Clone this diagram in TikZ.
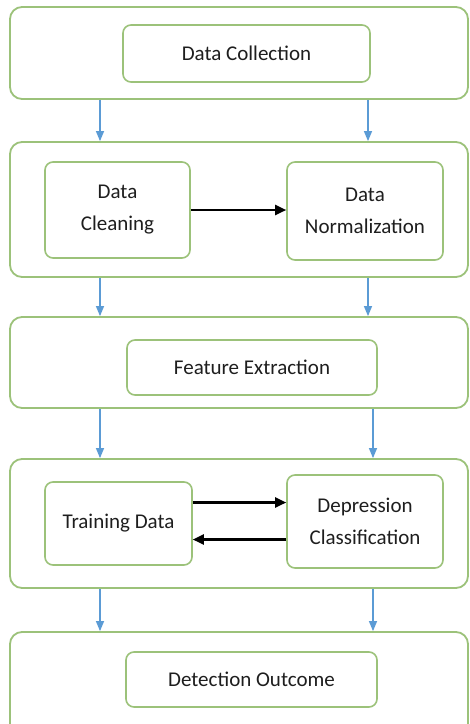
\documentclass[tikz,border=0pt]{standalone}
\usepackage{fontspec}
\setmainfont{Carlito}
\definecolor{dfGreen}{HTML}{9CC27A}
\definecolor{dfBlue}{HTML}{5B9BD5}
\definecolor{dfText}{HTML}{1E1E1E}
\usetikzlibrary{arrows.meta,positioning}

\begin{document}
\begin{tikzpicture}[x=1pt,y=-1pt,
    stage/.style={draw=dfGreen, line width=1.8pt, rounded corners=12pt, inner sep=0pt, minimum width=458pt},
    task/.style={draw=dfGreen, line width=1.6pt, rounded corners=8pt, inner sep=0pt, align=center,
      text=dfText, font=\fontsize{21}{32}\selectfont},
    flow/.style={draw=dfBlue, line width=1.2pt, -{Triangle[length=10pt,width=8pt]}},
    pass/.style={line width=2.2pt, -{Triangle[length=11pt,width=10pt]}}]
  \useasboundingbox[clip] (0,0) rectangle (470,724);
  \fill[white] (0,0) rectangle (470,724);

  % stages
  \node[stage, minimum height=92pt]  (collectStage)  at (239,53)    {};
  \node[stage, minimum height=135pt] (prepStage)     at (239,209.5) {};
  \node[stage, minimum height=91pt]  (featStage)     at (239,362.5) {};
  \node[stage, minimum height=129pt] (modelStage)    at (239,523.5) {};
  \node[stage, minimum height=130pt] (outcomeStage)  at (239,697)   {};

  % tasks
  \node[task, minimum width=247pt, minimum height=57pt] (collect) at (246.5,53.5) {Data Collection};
  \node[task, minimum width=145pt, minimum height=96pt] (clean)   at (117.5,210)  {Data\\Cleaning};
  \node[task, minimum width=156pt, minimum height=98pt] (norm)    at (365,211)    {Data\\Normalization};
  \node[task, minimum width=250pt, minimum height=55pt] (feat)    at (252,367.5)  {Feature Extraction};
  \node[task, minimum width=147pt, minimum height=83pt] (train)   at (118.5,523.5) {Training Data};
  \node[task, minimum width=156pt, minimum height=93pt] (classify) at (365,521.5) {Depression\\Classification};
  \node[task, minimum width=251pt, minimum height=55pt] (outcome) at (251.5,679.5) {Detection Outcome};

  \coordinate (L) at (100,0);
  \coordinate (R) at (368,0);
  \coordinate (R2) at (373,0);

  % flow between stages
  \draw[flow] (collectStage.south -| L) -- (prepStage.north -| L);
  \draw[flow] (collectStage.south -| R) -- (prepStage.north -| R);
  \draw[flow] (prepStage.south -| L) -- (featStage.north -| L);
  \draw[flow] (prepStage.south -| R) -- (featStage.north -| R);
  \draw[flow] (featStage.south -| L) -- (modelStage.north -| L);
  \draw[flow] (featStage.south -| R2) -- (modelStage.north -| R2);
  \draw[flow] (modelStage.south -| L) -- (outcomeStage.north -| L);
  \draw[flow] (modelStage.south -| R2) -- (outcomeStage.north -| R2);

  % inside stages
  \draw[pass] (clean.east) -- (clean.east -| norm.west);
  \draw[pass] ([yshift=21pt]train.east) -- ([yshift=21pt]train.east -| classify.west);
  \draw[pass] ([yshift=-16pt]train.east -| classify.west) -- ([yshift=-16pt]train.east);
\end{tikzpicture}
\end{document}
